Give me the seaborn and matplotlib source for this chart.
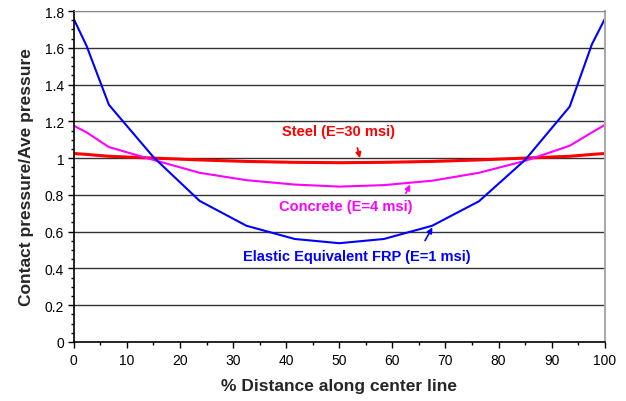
import numpy as np
import pandas as pd
import matplotlib
matplotlib.use("Agg")
import matplotlib.pyplot as plt
import seaborn as sns
from matplotlib.ticker import MultipleLocator, FuncFormatter

# % distance along center line (node positions)
distance = [0, 2.4, 6.6, 15, 23.7, 32.5, 41.6, 50, 58.4, 67.5, 76.3, 85, 93.4, 97.6, 100]

# contact pressure / average pressure
steel = [1.025, 1.02, 1.01, 1.0, 0.99, 0.982, 0.977, 0.975, 0.977, 0.982, 0.99, 1.0, 1.01, 1.02, 1.025]
concrete = [1.176, 1.14, 1.06, 0.99, 0.92, 0.88, 0.856, 0.845, 0.853, 0.877, 0.92, 0.985, 1.067, 1.14, 1.18]
frp = [1.756, 1.61, 1.29, 1.005, 0.767, 0.632, 0.56, 0.537, 0.56, 0.632, 0.765, 0.99, 1.28, 1.62, 1.756]

series_names = ["Steel (E=30 msi)", "Concrete (E=4 msi)", "Elastic Equivalent FRP (E=1 msi)"]
series_colors = ["#ff0000", "#ff00ff", "#0000ff"]

df = pd.concat([
    pd.DataFrame({"x": distance, "y": steel, "series": series_names[0]}),
    pd.DataFrame({"x": distance, "y": concrete, "series": series_names[1]}),
    pd.DataFrame({"x": distance, "y": frp, "series": series_names[2]}),
])

sns.set_style("white")
plt.rcParams["font.family"] = ["Liberation Sans", "DejaVu Sans"]

fig = plt.figure(figsize=(6.26, 4.02), dpi=100)
ax = fig.add_axes([0.118, 0.147, 0.848, 0.823])

# horizontal gridlines
for g in np.arange(0.2, 1.81, 0.2):
    ax.axhline(g, color="#333333" if g < 1.7 else "#888888", lw=1.0, zorder=0)

sns.lineplot(data=df, x="x", y="y", hue="series", palette=dict(zip(series_names, series_colors)),
             ax=ax, legend=False, sort=False, estimator=None)
lws = [2.2, 1.5, 1.5]
for line, lw in zip(ax.get_lines()[-3:], lws):
    line.set_linewidth(lw)

ax.xaxis.set_major_locator(MultipleLocator(10))
ax.xaxis.set_minor_locator(MultipleLocator(5))
ax.yaxis.set_major_locator(MultipleLocator(0.2))
ax.yaxis.set_minor_locator(MultipleLocator(0.05))
ax.yaxis.set_major_formatter(FuncFormatter(lambda v, p: "0" if abs(v) < 1e-9 else "%g" % round(v, 2)))
ax.set_xlim(0, 100)
ax.set_ylim(0, 1.8)

ax.tick_params(axis="both", which="both", bottom=True, left=True, top=False, right=False)
ax.tick_params(axis="both", which="major", direction="out", length=4, width=1, labelsize=10, colors="black")
ax.tick_params(axis="both", which="minor", direction="out", length=2.5, width=1, colors="black")
ax.tick_params(axis="x", which="major", pad=4)
ax.tick_params(axis="y", which="major", pad=3)

for s in ["left", "bottom"]:
    ax.spines[s].set_color("black")
    ax.spines[s].set_linewidth(1.2)
ax.spines["top"].set_color("#888888")
ax.spines["right"].set_color("#aaaaaa")
ax.spines["right"].set_linewidth(1.5)

ax.set_xlabel("% Distance along center line", fontsize=12.5, fontweight="bold", labelpad=8)
ax.set_ylabel("Contact pressure/Ave pressure", fontsize=12.5, fontweight="bold", labelpad=8)

# callouts
ax.text(49.9, 1.147, series_names[0], color=series_colors[0], fontsize=10.5, fontweight="bold", ha="center", va="center")
ax.annotate("", xy=(54, 0.985), xytext=(53.3, 1.07),
            arrowprops=dict(arrowstyle="-|>", color=series_colors[0], lw=1.2, mutation_scale=8))
ax.text(51.2, 0.74, series_names[1], color=series_colors[1], fontsize=10.5, fontweight="bold", ha="center", va="center")
ax.annotate("", xy=(63.6, 0.87), xytext=(62.3, 0.795),
            arrowprops=dict(arrowstyle="-|>", color=series_colors[1], lw=1.2, mutation_scale=8))
ax.text(53.3, 0.468, series_names[2], color=series_colors[2], fontsize=10.5, fontweight="bold", ha="center", va="center")
ax.annotate("", xy=(67.8, 0.636), xytext=(65.9, 0.538),
            arrowprops=dict(arrowstyle="-|>", color=series_colors[2], lw=1.2, mutation_scale=8))

fig.savefig("out.png", dpi=100)
